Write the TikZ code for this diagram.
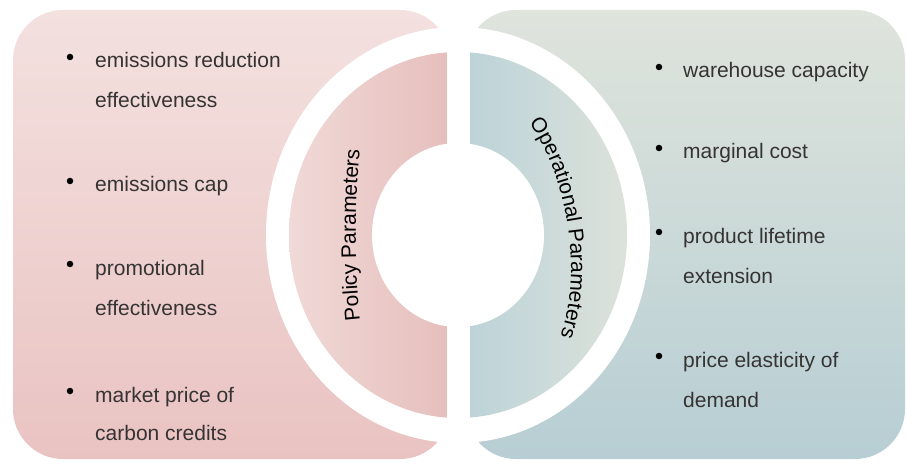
\documentclass[tikz,border=0pt]{standalone}
\usepackage{fontspec}
\newfontfamily\lsans{Liberation Sans}
\usetikzlibrary{decorations.text}
\definecolor{txt}{HTML}{363333}
\definecolor{pinkA}{HTML}{F3E1DF}
\definecolor{pinkB}{HTML}{E9C3C2}
\definecolor{pinkL}{HTML}{F0D9D7}
\definecolor{pinkR}{HTML}{E5BDBB}
\definecolor{greyA}{HTML}{DFE4DC}
\definecolor{blueB}{HTML}{B7CED4}
\definecolor{blueL}{HTML}{BAD2D8}
\definecolor{greyR}{HTML}{DCE2DA}
\newcommand{\itemfont}{\lsans\fontsize{21}{25}\selectfont}
\tikzset{
  item/.style={anchor=base west, font=\itemfont, text=txt, inner sep=0pt},
  bul/.style={circle, fill=black, inner sep=0pt, minimum size=6.5pt},
}
\begin{document}
\begin{tikzpicture}[x=1pt,y=1pt]
\useasboundingbox (0,0) rectangle (907,464);
% boxes
\shade[top color=pinkA, bottom color=pinkB, rounded corners=50pt] (13,5) rectangle (450,454);
\shade[top color=greyA, bottom color=blueB, rounded corners=50pt] (466,5) rectangle (905,454);
% ring
\fill[white] (458,229) ellipse [x radius=192, y radius=208];
\shade[left color=pinkL, right color=pinkR] (458,412) arc[start angle=90, end angle=270, x radius=169, y radius=183] -- cycle;
\shade[left color=blueL, right color=greyR] (458,46) arc[start angle=-90, end angle=90, x radius=169, y radius=183] -- cycle;
\fill[white] (446.5,40) rectangle (469.5,418);
\fill[white] (458,229) ellipse [x radius=86, y radius=92];
% arc texts
\path[decorate, decoration={text along path, text align=center,
  text={|\itemfont\color{black}|Policy Parameters}}]
  (361,135) .. controls (354,195) and (354,263) .. (361,323);
\path[decorate, decoration={text along path, text align=center,
  text={|\itemfont\color{black}|Operational Parameters}}]
  (517,356) .. controls (566,304) and (590,184) .. (553,110);
% left items
\node[bul] (lb1) at (70,407) {};
\node[item] (l1a) at (95,396) {emissions reduction};
\node[item] (l1b) at (95,356) {effectiveness};
\node[bul] (lb2) at (70,283) {};
\node[item] (l2a) at (95,272) {emissions cap};
\node[bul] (lb3) at (70,200) {};
\node[item] (l3a) at (95,189) {promotional};
\node[item] (l3b) at (95,149) {effectiveness};
\node[bul] (lb4) at (70,73) {};
\node[item] (l4a) at (95,62) {market price of};
\node[item] (l4b) at (95,24) {carbon credits};
% right items
\node[bul] (rb1) at (659,397) {};
\node[item] (r1a) at (683,386) {warehouse capacity};
\node[bul] (rb2) at (659,316) {};
\node[item] (r2a) at (683,305) {marginal cost};
\node[bul] (rb3) at (659,232) {};
\node[item] (r3a) at (683,221) {product lifetime};
\node[item] (r3b) at (683,181) {extension};
\node[bul] (rb4) at (659,108) {};
\node[item] (r4a) at (683,97) {price elasticity of};
\node[item] (r4b) at (683,57) {demand};
\end{tikzpicture}
\end{document}
